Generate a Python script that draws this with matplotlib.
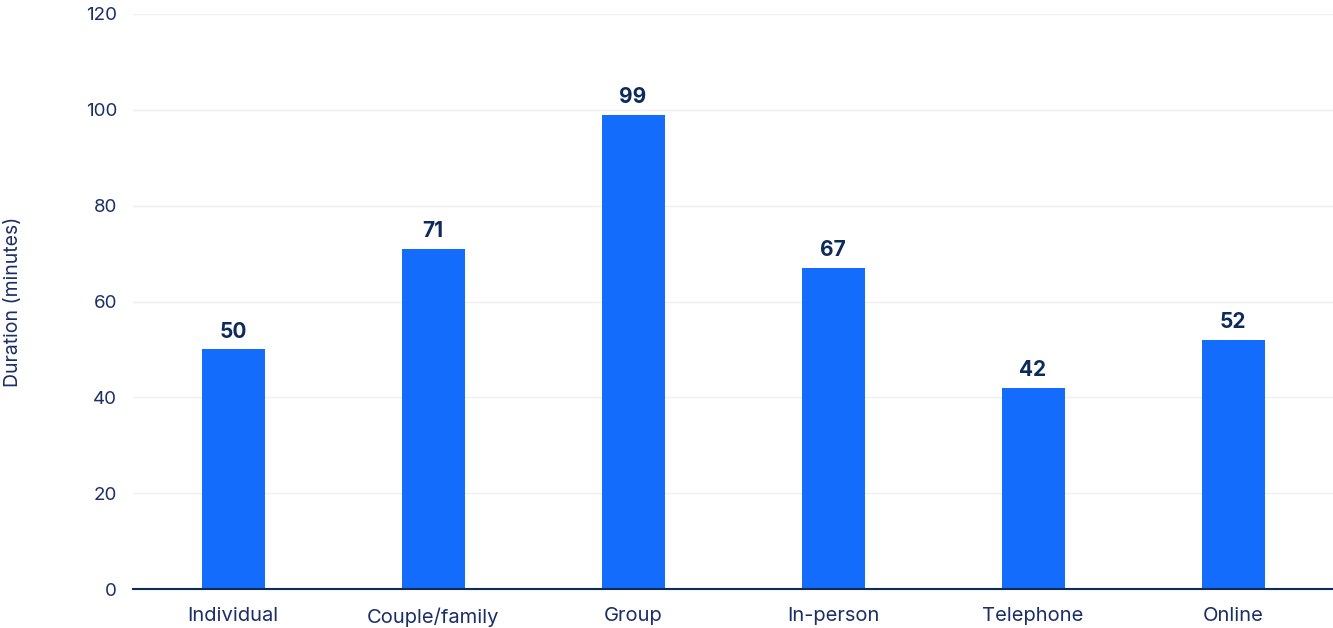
import matplotlib
matplotlib.use("Agg")
import matplotlib.pyplot as plt

categories = ["Individual", "Couple/family", "Group", "In-person", "Telephone", "Online"]
durations = [50, 71, 99, 67, 42, 52]
y_ticks = [0, 20, 40, 60, 80, 100, 120]

BAR = "#146cfd"
NAVY = "#1b2f66"
DARK = "#0d2a5c"

plt.rcParams["font.family"] = ["Inter", "DejaVu Sans"]

fig = plt.figure(figsize=(13.33, 6.28), dpi=100)
ax = fig.add_axes([133 / 1333, 1 - 589 / 628, 1200 / 1333, (589 - 14) / 628])

x = list(range(len(categories)))
bars = ax.bar(x, durations, width=0.315, color=BAR, zorder=3)
for xi, v in zip(x, durations):
    ax.annotate(f"{v}", (xi, v), xytext=(0, 5.5), textcoords="offset points",
                ha="center", va="bottom", fontsize=15, fontweight="bold", color=DARK)

ax.set_xlim(-0.5, len(categories) - 0.5)
ax.set_ylim(0, 120)
ax.set_yticks(y_ticks)
ax.set_yticklabels([str(t) for t in y_ticks], fontsize=13.5, color=NAVY)
ax.set_xticks(x)
ax.set_xticklabels(categories, fontsize=14.5, color=NAVY)
ax.tick_params(axis="both", length=0)
ax.tick_params(axis="y", pad=11.5)
ax.tick_params(axis="x", pad=13)

ax.grid(axis="y", color="#efefef", linewidth=1, zorder=0)
for side in ("top", "right", "left"):
    ax.spines[side].set_visible(False)
ax.spines["bottom"].set_color(DARK)
ax.spines["bottom"].set_linewidth(1.5)
ax.spines["bottom"].set_zorder(4)

fig.text(13 / 1333, 1 - 302 / 628, "Duration (minutes)", rotation=90,
         ha="center", va="center", fontsize=14, color=NAVY)

fig.savefig("out.png", dpi=100, facecolor="white")
